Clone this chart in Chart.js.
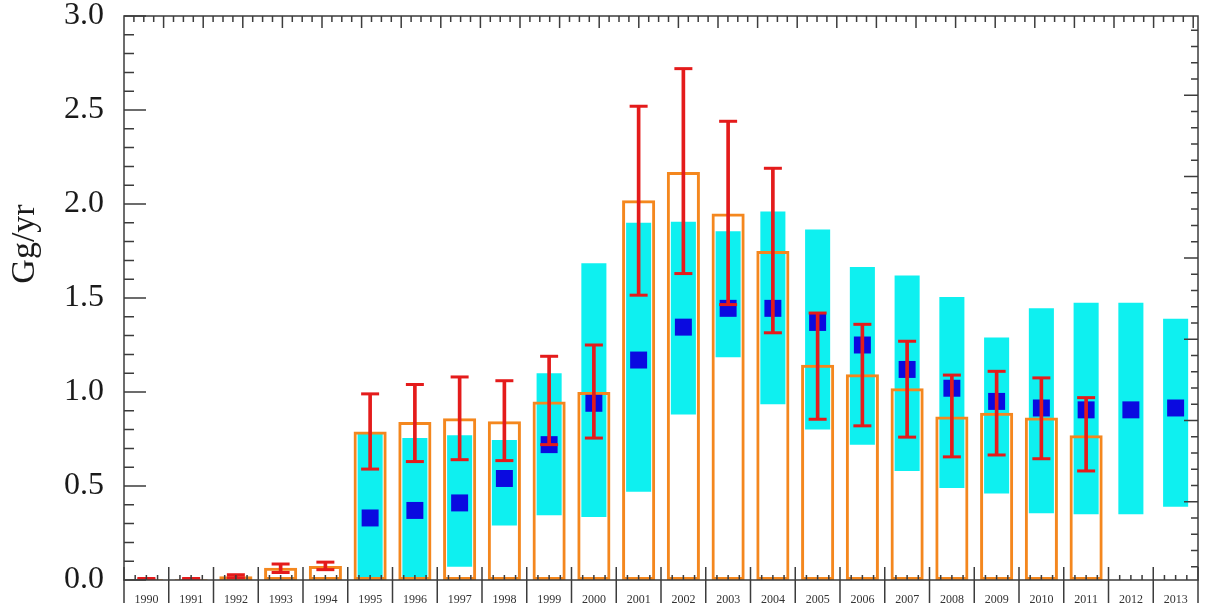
<!DOCTYPE html>
<html>
<head>
<meta charset="utf-8">
<script src="https://cdn.jsdelivr.net/npm/chart.js@4.4.0/dist/chart.umd.js"></script>
<style>
    html, body { margin: 0; padding: 0; background: #fff; }
</style>
</head>
<body>
<canvas id="chart" width="1210" height="603"></canvas>
<script>
const years = ['1990', '1991', '1992', '1993', '1994', '1995', '1996', '1997', '1998', '1999', '2000', '2001',
               '2002', '2003', '2004', '2005', '2006', '2007', '2008', '2009', '2010', '2011', '2012', '2013'];

// orange outlined bars + red error bars (symmetric around the bar top)
const estimate = [0.004, 0.004, 0.02, 0.065, 0.075, 0.79, 0.84, 0.86, 0.845, 0.95, 1.0, 2.02,
                  2.17, 1.95, 1.75, 1.145, 1.095, 1.02, 0.87, 0.89, 0.865, 0.77, null, null];
const errLow   = [0, 0, 0.012, 0.04, 0.055, 0.59, 0.63, 0.64, 0.635, 0.72, 0.755, 1.515,
                  1.63, 1.465, 1.315, 0.855, 0.82, 0.76, 0.655, 0.665, 0.645, 0.58, null, null];
const errHigh  = [0.008, 0.008, 0.028, 0.085, 0.095, 0.99, 1.04, 1.08, 1.06, 1.19, 1.25, 2.52,
                  2.72, 2.44, 2.19, 1.42, 1.36, 1.27, 1.09, 1.11, 1.075, 0.97, null, null];

// cyan ranges + blue squares
const rangeLow  = [null, null, null, null, null, 0, 0, 0.07, 0.29, 0.345, 0.335, 0.47,
                   0.88, 1.185, 0.935, 0.8, 0.72, 0.58, 0.49, 0.46, 0.355, 0.35, 0.35, 0.39];
const rangeHigh = [null, null, null, null, null, 0.78, 0.755, 0.77, 0.745, 1.10, 1.685, 1.90,
                   1.905, 1.855, 1.96, 1.865, 1.665, 1.62, 1.505, 1.29, 1.445, 1.475, 1.475, 1.39];
const model     = [null, null, null, null, null, 0.33, 0.37, 0.41, 0.54, 0.72, 0.94, 1.17,
                   1.345, 1.445, 1.445, 1.37, 1.25, 1.12, 1.02, 0.95, 0.915, 0.905, 0.905, 0.915];

const yMin = 0, yMax = 3.0, yStep = 0.5;
const yTitle = 'Gg/yr';

const SERIF = '"Liberation Serif", "DejaVu Serif", serif';
const AXIS = '#3c3c3c';

const pair = (lo, hi) => lo.map((v, i) => (v == null || hi[i] == null) ? null : [v, hi[i]]);

// inward ticks on all four sides + year boxes + rotated y title
const frame = {
    id: 'frame',
    afterDraw(chart) {
        const { ctx, chartArea: a, scales: { x, y } } = chart;
        ctx.save();
        ctx.strokeStyle = AXIS;
        ctx.lineWidth = 1.5;
        ctx.strokeRect(a.left, a.top, a.right - a.left, a.bottom - a.top);
        ctx.beginPath();
        // left
        for (let k = 0; k <= 30; k++) {
            const py = y.getPixelForValue(k / 10);
            ctx.moveTo(a.left, py);
            ctx.lineTo(a.left + (k % 5 === 0 ? 22 : 10), py);
        }
        // bottom: category boundaries run down through the label row
        const cw = (a.right - a.left) / years.length;
        for (let i = 0; i <= years.length; i++) {
            const px = x.getPixelForValue(i) - cw / 2;
            ctx.moveTo(px, a.bottom - 13);
            ctx.lineTo(px, chart.height);
            if (i < years.length) {
                for (let j = 1; j < 4; j++) {
                    ctx.moveTo(px + j * cw / 4, a.bottom);
                    ctx.lineTo(px + j * cw / 4, a.bottom - 5);
                }
            }
        }
        // top
        const topStep = 39.6 / 4;
        for (let k = 1; a.left + k * topStep < a.right; k++) {
            const px = a.left + k * topStep;
            ctx.moveTo(px, a.top);
            ctx.lineTo(px, a.top + (k % 4 === 0 ? 12 : 6));
        }
        // right
        const rightStep = 81.3 / 5;
        for (let k = 1; a.top - 2 + k * rightStep < a.bottom; k++) {
            const py = a.top - 2 + k * rightStep;
            ctx.moveTo(a.right, py);
            ctx.lineTo(a.right - (k % 5 === 0 ? 14 : 7), py);
        }
        ctx.stroke();

        ctx.fillStyle = '#1a1a1a';
        ctx.font = '34px ' + SERIF;
        ctx.textAlign = 'center';
        ctx.textBaseline = 'middle';
        ctx.translate(25, 244);
        ctx.rotate(-Math.PI / 2);
        ctx.fillText(yTitle, 0, 0);
        ctx.restore();
    },
};

new Chart(document.getElementById('chart'), {
    type: 'bar',
    data: {
        labels: years,
        datasets: [
            {
                type: 'line', label: 'err-cap-high', data: errHigh, order: 0,
                showLine: false, pointStyle: 'line', pointRadius: 9,
                pointBorderColor: '#e41b1b', pointBorderWidth: 3,
            },
            {
                type: 'line', label: 'err-cap-low', data: errLow, order: 0,
                showLine: false, pointStyle: 'line', pointRadius: 9,
                pointBorderColor: '#e41b1b', pointBorderWidth: 3,
            },
            {
                label: 'err', data: pair(errLow, errHigh), order: 1,
                grouped: false, barThickness: 3, backgroundColor: '#e41b1b', borderWidth: 0,
            },
            {
                type: 'line', label: 'model', data: model, order: 2,
                showLine: false, pointStyle: 'rect', pointRadius: 12,
                pointBackgroundColor: '#0a0ae0', pointBorderWidth: 0,
            },
            {
                label: 'estimate', data: estimate, order: 3,
                grouped: false, categoryPercentage: 1, barPercentage: 0.74,
                backgroundColor: 'rgba(0,0,0,0)', borderColor: '#f4871e', borderWidth: 3, borderSkipped: false,
            },
            {
                label: 'range', data: pair(rangeLow, rangeHigh), order: 4,
                grouped: false, categoryPercentage: 1, barPercentage: 0.56,
                backgroundColor: '#0ef0f0', borderWidth: 0,
            },
        ],
    },
    options: {
        responsive: false,
        animation: false,
        events: [],
        layout: { padding: { top: 16, right: 5, left: 0, bottom: 0 } },
        plugins: { legend: { display: false }, tooltip: { enabled: false } },
        scales: {
            x: {
                grid: { display: false },
                border: { display: false },
                ticks: { font: { family: SERIF, size: 12 }, color: '#333', padding: 5, maxRotation: 0, autoSkip: false },
                afterFit: (s) => { s.height = 23; s.paddingLeft = 0; s.paddingRight = 0; },
            },
            y: {
                min: yMin, max: yMax,
                grid: { display: false },
                border: { display: false },
                ticks: {
                    stepSize: yStep, padding: 12, color: '#1a1a1a',
                    font: { family: SERIF, size: 32 },
                    callback: (v) => v.toFixed(1),
                },
                afterFit: (s) => { s.width = 124; s.paddingTop = 0; s.paddingBottom = 0; },
            },
        },
    },
    plugins: [frame],
});
</script>
</body>
</html>
